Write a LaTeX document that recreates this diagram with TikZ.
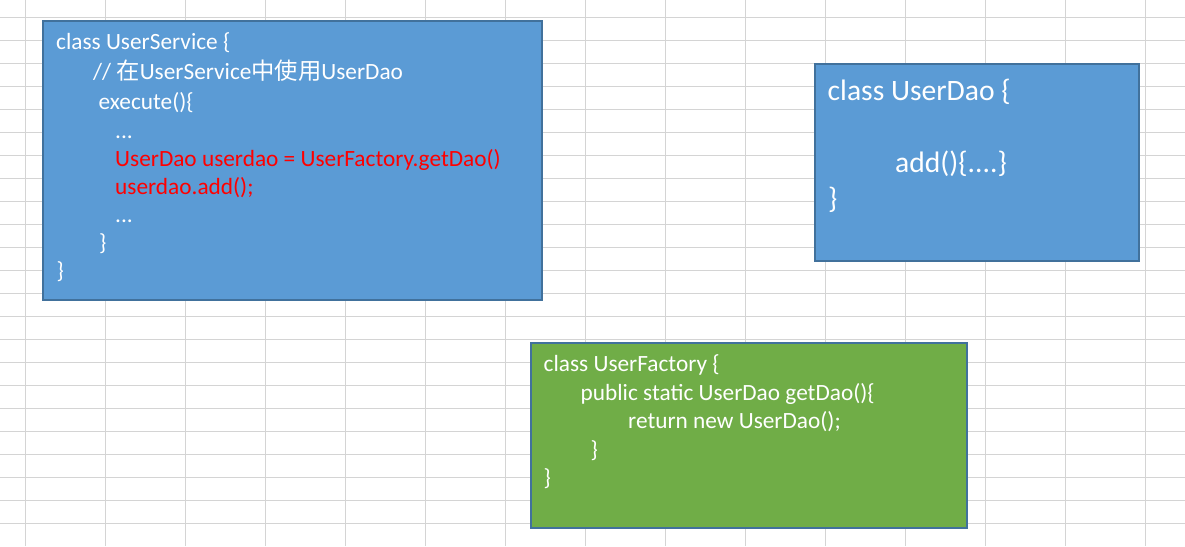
\documentclass[tikz,border=0pt]{standalone}
\usepackage{fontspec}
\setmainfont{Carlito}
\newfontfamily\cjk{Noto Sans CJK SC}
\definecolor{cellgray}{HTML}{D4D4D4}
\definecolor{boxblue}{HTML}{5B9BD5}
\definecolor{boxgreen}{HTML}{70AD47}
\definecolor{boxedge}{HTML}{41719C}
\definecolor{codered}{HTML}{FF0000}
\tikzset{
	cell/.style={cellgray, line width=1pt},
	classbox/.style={draw=boxedge, line width=2pt},
	code/.style={anchor=base west, inner sep=0pt, text=white, font=\fontsize{23.3}{28}\selectfont},
	bigcode/.style={code, font=\fontsize{29.6}{36}\selectfont},
	hot/.style={code, text=codered}
}
\begin{document}
\begin{tikzpicture}[x=1pt,y=-1pt]
	\useasboundingbox (0,0) rectangle (1185,546);
	\fill[white] (0,0) rectangle (1185,546);
	% sheet cells
	\foreach \x in {25,105,...,1145} \draw[cell] (\x,0)--(\x,546);
	\foreach \y in {17,40,...,523} \draw[cell] (0,\y)--(1185,\y);
	
	% UserService
	\filldraw[classbox, fill=boxblue] (43,21) coordinate(SA) rectangle (542,300) coordinate(SB);
	\node[code] (s1) at (56,49) {class UserService \{};
	\node[code] (s2) at (93,79) {// {\cjk 在}UserService{\cjk 中使用}UserDao};
	\node[code] (s3) at (98.5,109) {execute()\{};
	\node[code] (s4) at (115,138) {...};
	\node[hot] (s5) at (115,166) {UserDao userdao = UserFactory.getDao()};
	\node[hot] (s6) at (115,194) {userdao.add();};
	\node[code] (s7) at (115,222) {...};
	\node[code] (s8) at (99,250) {\}};
	\node[code] (s9) at (56.5,278) {\}};
	
	% UserDao
	\filldraw[classbox, fill=boxblue] (815,64) coordinate(DA) rectangle (1139,261) coordinate(DB);
	\node[bigcode] (d1) at (827.5,100) {class UserDao \{};
	\node[bigcode] (d2) at (895,172.5) {add()\{....\}};
	\node[bigcode] (d3) at (828,208) {\}};
	
	% UserFactory
	\filldraw[classbox, fill=boxgreen] (531,343) coordinate(FA) rectangle (967,528) coordinate(FB);
	\node[code] (f1) at (543.5,371) {class UserFactory \{};
	\node[code] (f2) at (580.5,400) {public static UserDao getDao()\{};
	\node[code] (f3) at (628,428) {return new UserDao();};
	\node[code] (f4) at (590.5,457) {\}};
	\node[code] (f5) at (543.5,485) {\}};
\end{tikzpicture}
\end{document}
